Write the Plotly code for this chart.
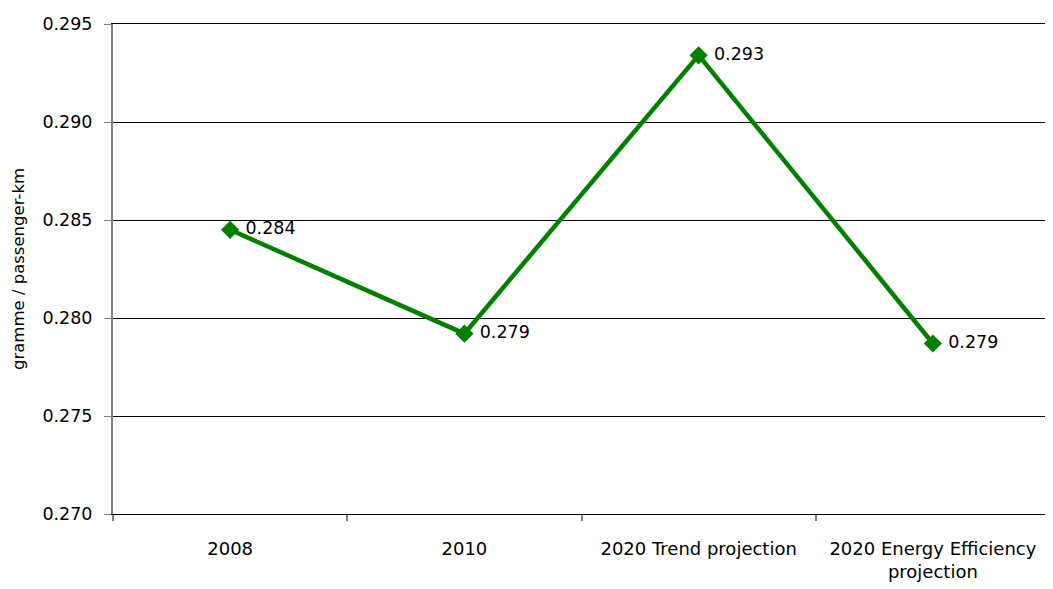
import plotly.graph_objects as go

categories = ["2008", "2010", "2020 Trend projection", "2020 Energy Efficiency<br>projection"]
values = [0.2845, 0.2792, 0.2934, 0.2787]
value_labels = ["0.284", "0.279", "0.293", "0.279"]
y_ticks = [0.270, 0.275, 0.280, 0.285, 0.290, 0.295]

FONT = "DejaVu Sans"
GREEN = "#008000"

fig = go.Figure()
fig.add_trace(go.Scatter(
    x=categories, y=values, mode="lines+markers+text",
    line=dict(color=GREEN, width=4.5),
    marker=dict(symbol="diamond", size=14, color=GREEN),
    text=[" " + t for t in value_labels], textposition="middle right",
    textfont=dict(family=FONT, size=17.5, color="#000000"),
    cliponaxis=False, hoverinfo="skip", showlegend=False,
))

# page body has an 8px default margin; compensate so the plot sits where the reference does
fig.update_layout(
    width=1045, height=581,
    margin=dict(l=105, r=3, t=16, b=75),
    paper_bgcolor="white", plot_bgcolor="white",
    font=dict(family=FONT, size=17.5, color="#000000"),
)
fig.update_xaxes(
    type="category", tickson="boundaries", ticks="outside", ticklen=6,
    tickcolor="#808080", tickwidth=1.5, showgrid=False,
    showline=True, linecolor="#000000", linewidth=1, mirror=True,
    tickfont=dict(family=FONT, size=18), range=[-0.5, 3.5],
    ticklabelstandoff=18,
)
fig.update_yaxes(
    range=[0.270, 0.295], tickvals=y_ticks, tickformat=".3f",
    showgrid=True, gridcolor="#000000", gridwidth=1,
    showline=True, linecolor="#808080", linewidth=2,
    ticks="outside", ticklen=7, tickcolor="#808080",
    zeroline=False, ticklabelstandoff=8,
    title=dict(text="gramme / passenger-km", font=dict(family=FONT, size=16.5), standoff=14),
    tickfont=dict(family=FONT, size=17.5),
)

fig.write_html("out.html")
